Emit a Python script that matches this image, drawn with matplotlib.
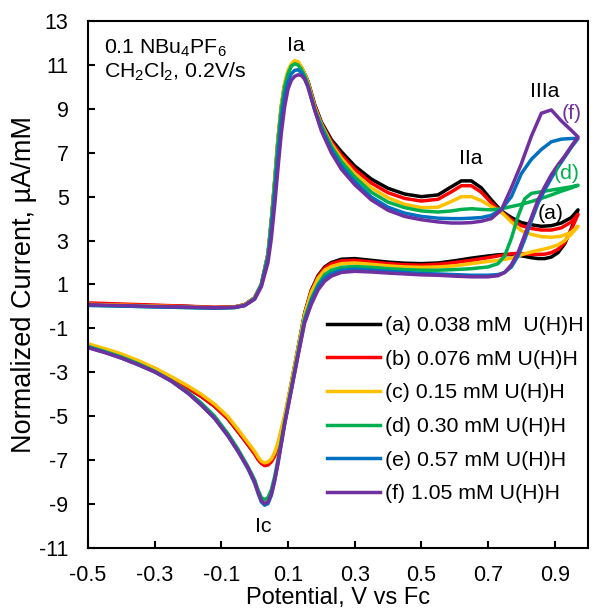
import matplotlib
matplotlib.use("Agg")
import matplotlib.pyplot as plt

plt.rcParams['font.family'] = ['Liberation Sans', 'DejaVu Sans']
plt.rcParams['mathtext.default'] = 'regular'
plt.rcParams['axes.unicode_minus'] = False

# potential grid, forward scan (-0.5 -> 0.97 V)
xf = [-0.5, -0.4, -0.3, -0.2, -0.12, -0.06, -0.03, 0.0, 0.02, 0.04, 0.05, 0.06, 0.07, 0.08, 0.09, 0.10,
      0.11, 0.12, 0.13, 0.14, 0.15, 0.16, 0.18, 0.20, 0.23, 0.26, 0.30, 0.35, 0.40, 0.45, 0.50,
      0.55, 0.59, 0.62, 0.65, 0.68, 0.71, 0.74, 0.77, 0.80, 0.83, 0.86, 0.89, 0.92, 0.95, 0.97]

# potential grid, reverse scan (0.97 -> -0.5 V)
xr = [0.97, 0.95, 0.93, 0.91, 0.89, 0.87, 0.85, 0.83, 0.81, 0.79, 0.77, 0.75, 0.73,
      0.70, 0.65, 0.60, 0.55, 0.50, 0.45, 0.40, 0.35, 0.30,
      0.26, 0.23, 0.21, 0.19, 0.17, 0.15, 0.13, 0.11, 0.09, 0.07,
      0.06, 0.05, 0.04, 0.03, 0.02, 0.01, 0.0,
      -0.02, -0.05, -0.08, -0.12, -0.16, -0.2, -0.25, -0.3, -0.35, -0.4, -0.45, -0.5]

# normalized current (uA/mM)
fwd_a = [0.12, 0.08, 0.04, 0.0, -0.05, -0.02, 0.08, 0.4, 1.0, 2.4, 3.9, 5.7, 7.6, 9.1, 10.1, 10.65,
         10.98, 11.13, 11.08, 10.88, 10.6, 10.25, 9.2, 8.4, 7.6, 7.05, 6.4, 5.8, 5.38, 5.12, 5.0,
         5.08, 5.45, 5.72, 5.72, 5.4, 4.85, 4.35, 4.05, 3.82, 3.72, 3.65, 3.68, 3.8, 4.05, 4.4]
fwd_b = [0.16, 0.11, 0.06, 0.01, -0.04, -0.02, 0.08, 0.4, 1.0, 2.4, 3.9, 5.7, 7.6, 9.1, 10.1, 10.68,
         11.0, 11.15, 11.1, 10.88, 10.58, 10.22, 9.15, 8.35, 7.5, 6.9, 6.25, 5.62, 5.18, 4.92, 4.8,
         4.88, 5.22, 5.5, 5.5, 5.2, 4.72, 4.3, 3.95, 3.68, 3.55, 3.48, 3.48, 3.58, 3.85, 4.2]
fwd_c = [0.1, 0.06, 0.02, -0.02, -0.06, -0.03, 0.07, 0.4, 1.0, 2.4, 3.9, 5.75, 7.7, 9.2, 10.2, 10.75,
         11.05, 11.2, 11.15, 10.92, 10.6, 10.2, 9.1, 8.3, 7.4, 6.75, 6.05, 5.4, 4.95, 4.65, 4.5,
         4.52, 4.78, 5.0, 5.0, 4.82, 4.55, 4.3, 3.85, 3.45, 3.28, 3.18, 3.15, 3.2, 3.38, 3.65]
fwd_d = [0.05, 0.02, -0.02, -0.05, -0.08, -0.05, 0.05, 0.38, 1.0, 2.35, 3.85, 5.6, 7.5, 9.0, 10.0, 10.6,
         10.95, 11.05, 11.0, 10.8, 10.5, 10.1, 9.0, 8.25, 7.3, 6.6, 5.9, 5.2, 4.75, 4.5, 4.35,
         4.3, 4.35, 4.42, 4.45, 4.42, 4.4, 4.45, 4.55, 4.65, 4.78, 4.92, 5.08, 5.25, 5.4, 5.52]
fwd_e = [0.05, 0.02, -0.02, -0.05, -0.08, -0.05, 0.04, 0.35, 0.95, 2.2, 3.5, 5.1, 6.9, 8.5, 9.6, 10.25,
         10.6, 10.75, 10.78, 10.65, 10.38, 10.0, 8.95, 8.1, 7.15, 6.4, 5.7, 4.98, 4.52, 4.25, 4.1,
         4.02, 4.0, 4.0, 4.02, 4.05, 4.15, 4.42, 5.0, 6.05, 6.7, 7.15, 7.5, 7.62, 7.65, 7.65]
fwd_f = [0.08, 0.04, 0.0, -0.03, -0.06, -0.04, 0.04, 0.33, 0.9, 2.0, 3.1, 4.6, 6.3, 7.9, 9.1, 9.9,
         10.3, 10.48, 10.55, 10.52, 10.35, 10.0, 8.95, 8.0, 7.0, 6.25, 5.55, 4.85, 4.38, 4.1, 3.95,
         3.85, 3.8, 3.8, 3.82, 3.88, 4.0, 4.4, 5.4, 6.5, 7.75, 8.8, 8.95, 8.45, 8.02, 7.72]

rev_a = [4.4, 3.55, 2.85, 2.45, 2.25, 2.18, 2.18, 2.22, 2.28, 2.33, 2.36, 2.37, 2.35,
         2.3, 2.2, 2.08, 1.98, 1.95, 1.97, 2.02, 2.1, 2.18,
         2.15, 2.0, 1.8, 1.4, 0.75, -0.3, -1.9, -3.5, -5.05, -6.3,
         -6.75, -7.0, -7.15, -7.2, -7.12, -6.95, -6.7,
         -6.3, -5.7, -5.12, -4.55, -4.1, -3.72, -3.28, -2.88, -2.53, -2.23, -1.97, -1.75]
rev_b = [4.2, 3.5, 2.9, 2.6, 2.45, 2.38, 2.37, 2.38, 2.4, 2.42, 2.4, 2.35, 2.3,
         2.22, 2.1, 2.0, 1.92, 1.88, 1.9, 1.95, 2.03, 2.1,
         2.08, 1.95, 1.75, 1.35, 0.7, -0.32, -1.92, -3.52, -5.1, -6.35,
         -6.82, -7.08, -7.22, -7.25, -7.15, -6.97, -6.72,
         -6.3, -5.7, -5.12, -4.55, -4.1, -3.72, -3.28, -2.88, -2.53, -2.23, -1.97, -1.75]
rev_c = [3.65, 3.3, 3.0, 2.8, 2.7, 2.62, 2.55, 2.48, 2.4, 2.3, 2.2, 2.15, 2.1,
         2.05, 1.95, 1.85, 1.8, 1.78, 1.8, 1.85, 1.92, 1.98,
         1.95, 1.82, 1.65, 1.28, 0.65, -0.35, -1.9, -3.45, -4.95, -6.2,
         -6.65, -6.95, -7.08, -7.12, -7.05, -6.85, -6.6,
         -6.2, -5.6, -5.02, -4.45, -4.0, -3.62, -3.2, -2.8, -2.46, -2.16, -1.92, -1.7]
rev_d = [5.52, 5.45, 5.4, 5.35, 5.3, 5.25, 5.2, 5.15, 4.9, 4.1, 3.1, 2.3, 1.95,
         1.8, 1.72, 1.68, 1.65, 1.65, 1.68, 1.72, 1.78, 1.82,
         1.78, 1.65, 1.45, 1.0, 0.35, -0.55, -2.1, -3.7, -5.25, -6.95,
         -7.75, -8.35, -8.7, -8.8, -8.7, -8.35, -7.9,
         -7.3, -6.5, -5.8, -5.0, -4.4, -3.9, -3.38, -2.95, -2.6, -2.3, -2.05, -1.82]
rev_e = [7.65, 7.25, 6.8, 6.35, 5.85, 5.3, 4.7, 3.9, 3.05, 2.3, 1.8, 1.55, 1.45,
         1.42, 1.42, 1.45, 1.48, 1.5, 1.55, 1.6, 1.65, 1.7,
         1.65, 1.5, 1.3, 0.9, 0.25, -0.65, -2.2, -3.8, -5.35, -7.1,
         -7.95, -8.6, -8.98, -9.05, -8.9, -8.5, -8.05,
         -7.4, -6.6, -5.9, -5.1, -4.48, -3.95, -3.4, -2.98, -2.65, -2.35, -2.08, -1.86]
rev_f = [7.72, 7.3, 6.85, 6.45, 6.0, 5.45, 4.85, 4.05, 3.25, 2.45, 1.9, 1.55, 1.4,
         1.35, 1.35, 1.38, 1.42, 1.44, 1.48, 1.52, 1.57, 1.6,
         1.55, 1.38, 1.15, 0.75, 0.1, -0.75, -2.25, -3.8, -5.35, -7.15,
         -7.9, -8.55, -8.9, -8.98, -8.85, -8.45, -8.0,
         -7.35, -6.6, -5.9, -5.1, -4.5, -3.95, -3.4, -2.98, -2.65, -2.35, -2.1, -1.88]

labels = ['(a) 0.038 mM  U(H)H', '(b) 0.076 mM U(H)H', '(c) 0.15 mM U(H)H',
          '(d) 0.30 mM U(H)H', '(e) 0.57 mM U(H)H', '(f) 1.05 mM U(H)H']
colors = ['#000000', '#ff0000', '#ffc000', '#00b050', '#0070c0', '#7030a0']
forward = [fwd_a, fwd_b, fwd_c, fwd_d, fwd_e, fwd_f]
reverse = [rev_a, rev_b, rev_c, rev_d, rev_e, rev_f]

fig = plt.figure(figsize=(5.93, 6.09), dpi=100)
ax = fig.add_axes([0.1484, 0.1002, 0.8432, 0.8653])

for fw, rv, c, lab in zip(forward, reverse, colors, labels):
    ax.plot(xf + xr, fw + rv, color=c, lw=2.5, label=lab, solid_joinstyle='round')

ax.set_xlim(-0.5, 1.0)
ax.set_ylim(-11, 13)
ax.set_xticks([-0.5, -0.3, -0.1, 0.1, 0.3, 0.5, 0.7, 0.9])
ax.set_xticklabels(['-0.5', '-0.3', '-0.1', '0.1', '0.3', '0.5', '0.7', '0.9'])
ax.set_yticks(range(-11, 14, 2))
ax.tick_params(direction='in', length=5, width=1.5, labelsize=15.5, pad=12)
ax.tick_params(axis='y', pad=14)
for s in ax.spines.values():
    s.set_linewidth(1.5)

ax.set_xlabel('Potential, V vs Fc', fontsize=17, labelpad=1)
ax.set_ylabel('Normalized Current, µA/mM', fontsize=19.5)
ax.yaxis.set_label_coords(-0.102, 0.5)

fs = 15.3
ax.text(-0.453, 11.77, '0.1 NBu$_4$PF$_6$', fontsize=fs, va='center')
ax.text(-0.453, 10.69, 'CH$_2$Cl$_2$, 0.2V/s', fontsize=fs, va='center')
ax.text(0.122, 11.9, 'Ia', fontsize=fs, ha='center', va='center')
ax.text(0.027, -10.03, 'Ic', fontsize=fs, ha='center', va='center')
ax.text(0.647, 6.75, 'IIa', fontsize=fs, ha='center', va='center')
ax.text(0.87, 9.78, 'IIIa', fontsize=fs, ha='center', va='center')
ax.text(0.952, 8.8, '(f)', fontsize=fs, ha='center', va='center', color=colors[5])
ax.text(0.937, 6.06, '(d)', fontsize=fs, ha='center', va='center', color=colors[3])
ax.text(0.887, 4.24, '(a)', fontsize=fs, ha='center', va='center', color=colors[0])

ax.legend(loc='upper left', bbox_to_anchor=(0.478, 0.44), frameon=False, fontsize=fs,
          borderpad=0, borderaxespad=0, handlelength=2.5, handletextpad=0.25,
          labelspacing=0.69)

fig.savefig('out.png', dpi=100)
